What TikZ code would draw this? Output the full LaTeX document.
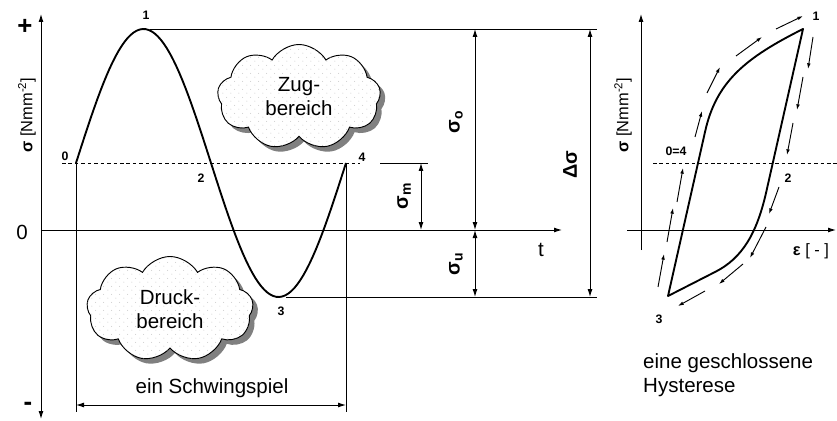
\documentclass[tikz,border=0pt]{standalone}
\usepackage{fontspec}
\setmainfont{Liberation Sans}
\usepackage{tikz}
\usetikzlibrary{arrows.meta,positioning,shapes.symbols,patterns,shadows}
\usepackage{xcolor}
\definecolor{ink}{HTML}{000000}
\definecolor{shade}{HTML}{808080}
\definecolor{dotgray}{HTML}{B4B4B4}
\pgfdeclarepatternformonly{cloud dots}{\pgfqpoint{0pt}{0pt}}{\pgfqpoint{7pt}{7pt}}{\pgfqpoint{7pt}{7pt}}{%
  \pgfpathcircle{\pgfqpoint{1.75pt}{1.75pt}}{0.45pt}%
  \pgfpathcircle{\pgfqpoint{5.25pt}{5.25pt}}{0.45pt}%
  \pgfusepath{fill}}
\tikzset{
  axis/.style={-{Latex[length=2.4mm,width=1.5mm]},draw=ink,line width=0.8pt},
  dimline/.style={{Latex[length=2.4mm,width=1.5mm]}-{Latex[length=2.4mm,width=1.5mm]},draw=ink,line width=0.8pt},
  helper/.style={draw=ink,line width=0.8pt},
  meanline/.style={draw=ink,line width=0.8pt,dash pattern=on 3pt off 2.5pt},
  curve/.style={draw=ink,line width=1.6pt,line join=round},
  flowarrow/.style={-{Latex[length=1.7mm,width=1.1mm]},draw=ink,line width=0.8pt},
  cloudbox/.style={cloud,cloud puffs=9,cloud puff arc=120,cloud ignores aspect,
    minimum width=49mm,minimum height=31.5mm,draw=ink,line width=0.8pt,
    drop shadow={fill=shade,opacity=1,shadow xshift=1.5mm,shadow yshift=-1.5mm},
    fill=white,postaction={pattern=cloud dots,pattern color=dotgray},
    align=center,font=\fontsize{17.5}{20.5}\selectfont},
  txt/.style={font=\fontsize{17.5}{20.5}\selectfont,inner sep=0pt},
  num/.style={font=\fontsize{10.5}{12}\selectfont\bfseries,inner sep=0pt},
  sym/.style={font=\fontsize{17}{20}\selectfont\bfseries,inner sep=0pt,rotate=90},
  unit/.style={font=\fontsize{14}{16}\selectfont,inner sep=0pt},
  sign/.style={font=\fontsize{22}{24}\selectfont\bfseries,inner sep=0pt}
}
\begin{document}
\begin{tikzpicture}[x=0.3mm,y=-0.3mm]
  \useasboundingbox (0,0) rectangle (837,421);

  % left: stress over time
  \coordinate (p0) at (76,163);
  \coordinate (p1) at (143,29);
  \coordinate (p3) at (278.5,297);
  \coordinate (p4) at (346,163);
  \coordinate (origin) at (41,230);

  \draw[{Latex[length=2.4mm,width=1.5mm]}-{Latex[length=2.4mm,width=1.5mm]},line width=0.8pt] (41,419) -- (41,14);
  \draw[axis] (origin) -- (562,230) coordinate (tend);
  \node[sign] (plus) at (25,27) {+};
  \node[sign] (minus) at (28,406) {-};
  \node[txt] (zero) at (22,232) {0};
  \node[txt] (tlabel) at (541,250) {t};
  \node[unit,rotate=90] (sigaxis) at (27,115) {\textbf{σ} [Nmm\textsuperscript{-2}]};

  \draw[meanline] (62,163) -- (360,163);
  \draw[helper] (380,163) -- (428,163);
  \draw[helper] (150,29) -- (597,29);
  \draw[helper] (286,297) -- (597,297);
  \draw[helper] (p0) -- (76,412);
  \draw[helper] (p4) -- (346,412);

  \draw[curve] plot[domain=76:346,samples=90] (\x,{163-134*sin(4/3*(\x-76))});

  \node[num] (n0) at (65,156) {0};
  \node[num] (n1) at (146,15) {1};
  \node[num] (n2) at (201,178) {2};
  \node[num] (n3) at (281,311) {3};
  \node[num] (n4) at (362,157) {4};

  \node[cloudbox] (zug) at (299,97) {Zug-\\bereich};
  \node[cloudbox,minimum width=50mm] (druck) at (170,309) {Druck-\\bereich};

  % dimensions
  \draw[dimline] (76,405) -- (346,405);
  \node[txt] (cycle) at (212,388) {ein Schwingspiel};
  \draw[dimline] (421,163) -- (421,230);
  \draw[dimline] (475,29) -- (475,230);
  \draw[dimline] (475,230) -- (475,297);
  \draw[dimline] (590,29) -- (590,297);
  \node[sym] (sm) at (404,196) {σ\textsubscript{m}};
  \node[sym] (so) at (456,122) {σ\textsubscript{o}};
  \node[sym] (su) at (456,264) {σ\textsubscript{u}};
  \node[sym] (ds) at (570,165) {Δσ};

  % right: hysteresis loop
  \draw[axis] (641,250) -- (641,14);
  \draw[axis] (627,230) -- (836,230);
  \draw[meanline] (653,163) -- (837,163);
  \node[unit,rotate=90] (sigaxis2) at (623,115) {\textbf{σ} [Nmm\textsuperscript{-2}]};
  \node[unit] (epsaxis) at (811,251) {\textbf{ε} [ - ]};

  \coordinate (h1) at (803,29);
  \coordinate (h3) at (668,296);
  \coordinate (hb) at (705,132);
  \coordinate (hr) at (766,193);
  \coordinate (hl) at (715,272);
  \draw[curve] (h3) -- (hb) .. controls (716,82) and (745,58) .. (h1)
    -- (hr) .. controls (757,232) and (743,258) .. (hl) -- cycle;

  \foreach \xa/\ya/\xb/\yb in {658/287/664/254, 667/242/673/208, 677/202/683/168,
      695/137/702/111, 707/93/720/67, 736/56/762/37, 776/29/803/16,
      813/37/808/69, 803/77/797/110, 793/123/787/155, 779/187/769/214,
      766/227/750/258, 743/264/719/284, 705/291/678/306}
    \draw[flowarrow] (\xa,\ya) -- (\xb,\yb);

  \node[num] (m04) at (676,151) {0=4};
  \node[num] (m1) at (816,16) {1};
  \node[num] (m2) at (788,178) {2};
  \node[num] (m3) at (659,319) {3};
  \node[txt,align=left,anchor=west] (hyst) at (643,375) {eine geschlossene\\Hysterese};
\end{tikzpicture}
\end{document}
